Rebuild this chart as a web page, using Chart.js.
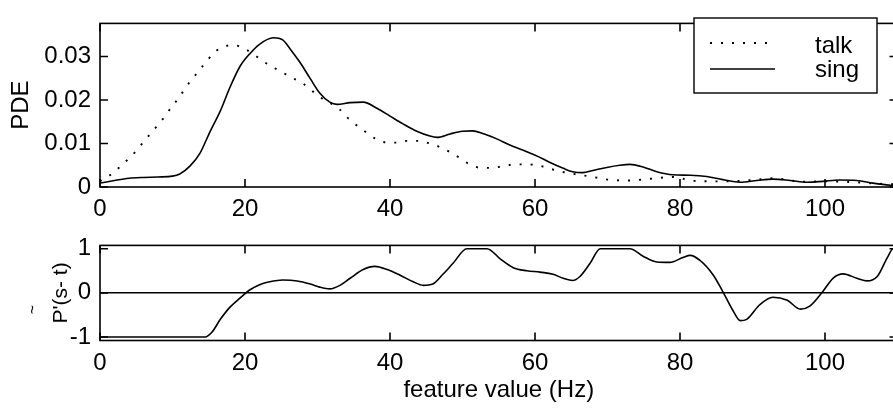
<!DOCTYPE html>
<html><head><meta charset="utf-8">
<script src="https://cdn.jsdelivr.net/npm/chart.js@4.4.1/dist/chart.umd.min.js"></script>
<style>
html,body{margin:0;padding:0;background:#fff;overflow:hidden;width:893px;height:412px;}
#wrap{position:relative;width:900px;height:412px;}
canvas{position:absolute;left:0;display:block;}
#c1{top:0;width:900px;height:222px;}
#c2{top:222px;width:900px;height:190px;}
</style></head><body>
<div id="wrap">
<canvas id="c1" width="900" height="222"></canvas>
<canvas id="c2" width="900" height="190"></canvas>
</div>
<script>
// ---- data ----
const seriesNames = ['talk', 'sing'];

const talkFreq = [0,1.8,2.9,4,5.1,6.1,7,8.1,9.1,9.9,10.9,11.7,12.7,13.7,14.6,15.6,16.7,18.4,19.9,21.2,22.5,23.9,25.2,26.5,27.9,29.1,30.3,33,34.1,35.3,36.6,37.8,39.2,40.8,42.3,43.9,45.5,47,48.4,49.7,51,52.6,54.1,55.6,57.2,58.8,60.3,61.9,63.4,65,66.5,68,70,73,76,79,82,86,90,93,97,100,104,108,110];
const talkPDE  = [0.0013,0.0032,0.0049,0.0066,0.0085,0.0106,0.0123,0.0145,0.0165,0.0185,0.0205,0.0226,0.0248,0.0268,0.0287,0.0306,0.032,0.0326,0.0318,0.0305,0.0289,0.0275,0.0263,0.0251,0.0239,0.0223,0.0207,0.0179,0.016,0.0143,0.0127,0.0113,0.0103,0.0102,0.0106,0.0106,0.01,0.0091,0.0079,0.0066,0.0052,0.0044,0.0044,0.0048,0.0052,0.0052,0.005,0.0043,0.0036,0.0031,0.0027,0.0023,0.0017,0.0015,0.0019,0.0023,0.0014,0.0013,0.0016,0.002,0.0012,0.0013,0.0011,0.0007,0.0006];

const singFreq = [0,2,4,6,8,10,11,12.4,13.8,15.2,16.6,17.9,19.3,20.7,22,23.9,25.2,26.2,27.6,29,30.3,31.7,32.7,34.5,36.3,38.2,40,41.8,43.7,45.5,46.5,48.3,50,51.4,52.8,54.8,56.6,58.3,60.3,62,63.9,65.2,66.6,68,69.9,71.7,73.1,74.9,76.8,79,81.4,83.7,85.9,88.3,90.6,92.8,95.2,97.5,99.7,102,104.4,106.6,109,110];
const singPDE  = [0.0009,0.0015,0.002,0.0022,0.0023,0.0025,0.003,0.0048,0.0078,0.0128,0.0175,0.0228,0.0277,0.0307,0.0328,0.0343,0.0338,0.0318,0.0286,0.0249,0.0216,0.0195,0.019,0.0194,0.0195,0.0181,0.0163,0.0145,0.0128,0.0117,0.0114,0.0122,0.0128,0.0129,0.0123,0.011,0.0096,0.0085,0.0071,0.0057,0.0043,0.0035,0.0033,0.0038,0.0045,0.005,0.0052,0.0046,0.0035,0.0028,0.0027,0.0024,0.0017,0.0011,0.0015,0.0018,0.0015,0.0011,0.0013,0.0016,0.0015,0.0009,0.0004,0.0003];

const diffFreq = [0,14.5,15.4,16.6,17.9,19.3,20.7,22.1,23.4,25.2,27.2,29,30.3,31.7,33.1,34.5,36.3,37.9,39.6,41.4,43.2,44.6,45.9,47.3,48.7,50.6,53.4,55.2,57,58.9,60.7,62.5,63.9,65.2,66.2,67.6,69,73.1,74.9,76.8,78.6,80.4,81.4,82.8,84.6,85.9,87.3,88.3,89.2,91,92.8,94.8,96.6,97.9,99.7,101.1,102.5,104.4,105.8,107.2,108.6,109.4,110];
const diffP    = [-1,-1,-0.9,-0.6,-0.33,-0.12,0.07,0.19,0.25,0.29,0.27,0.2,0.13,0.09,0.17,0.33,0.53,0.6,0.53,0.4,0.25,0.17,0.2,0.42,0.67,1,1,0.77,0.57,0.5,0.47,0.42,0.33,0.28,0.37,0.67,1,1,0.83,0.7,0.69,0.8,0.85,0.73,0.4,0.03,-0.4,-0.63,-0.6,-0.27,-0.1,-0.17,-0.37,-0.3,0.03,0.33,0.43,0.33,0.27,0.37,0.8,1,1];

const xTicks = [0,20,40,60,80,100];
const xTickLabels = ['0','20','40','60','80','100'];
const pdeTicks = [0,0.01,0.02,0.03];
const pdeTickLabels = ['0','0.01','0.02','0.03'];
const diffTicks = [-1,0,1];
const diffTickLabels = ['-1','0','1'];
const xTitle = 'feature value (Hz)';
const topYTitle = 'PDE';
const bottomYTitle = "P'(s- t)";
const tildeMark = '~';

// ---- rendering ----
const FONT = '"Liberation Sans", Arial, Helvetica, sans-serif';
const FS = 24;
Chart.defaults.font.family = FONT;
Chart.defaults.color = '#000';

const toXY = (xs, ys) => xs.map((v, i) => ({x: v, y: ys[i]}));

const frame = {
  id: 'frame',
  afterDatasetsDraw(chart) {
    const {ctx, chartArea: {left, right, top, bottom}, scales: {x, y}} = chart;
    ctx.save();
    ctx.strokeStyle = '#000';
    ctx.lineWidth = 1.6;
    ctx.beginPath();
    x.ticks.forEach(t => {
      const px = x.getPixelForValue(t.value);
      ctx.moveTo(px, bottom); ctx.lineTo(px, bottom - 8);
      ctx.moveTo(px, top); ctx.lineTo(px, top + 8);
    });
    y.ticks.forEach(t => {
      const py = y.getPixelForValue(t.value);
      ctx.moveTo(left, py); ctx.lineTo(left + 8, py);
      ctx.moveTo(right, py); ctx.lineTo(right - 8, py);
    });
    ctx.stroke();
    ctx.strokeRect(left, top, right - left, bottom - top);
    ctx.restore();
  }
};

const boxLegend = {
  id: 'boxLegend',
  afterDraw(chart) {
    const ctx = chart.ctx;
    ctx.save();
    ctx.fillStyle = '#fff';
    ctx.fillRect(694, 18, 183, 75);
    ctx.strokeStyle = '#000';
    ctx.lineWidth = 1.4;
    ctx.strokeRect(694, 18, 183, 75);
    const rows = [{y: 43, ty: 53}, {y: 69, ty: 77}];
    chart.data.datasets.forEach((ds, i) => {
      ctx.beginPath();
      ctx.lineWidth = ds.borderWidth;
      ctx.setLineDash(ds.borderDash || []);
      ctx.moveTo(710, rows[i].y); ctx.lineTo(775, rows[i].y);
      ctx.stroke();
      ctx.setLineDash([]);
      ctx.fillStyle = '#000';
      ctx.font = FS + 'px ' + FONT;
      ctx.textAlign = 'left';
      ctx.textBaseline = 'alphabetic';
      ctx.fillText(ds.label, 815, rows[i].ty);
    });
    ctx.restore();
  }
};

const tilde = {
  id: 'tilde',
  afterDraw(chart) {
    const ctx = chart.ctx;
    ctx.save();
    ctx.translate(33.5, 87.5);
    ctx.rotate(-Math.PI / 2);
    ctx.font = '16px ' + FONT;
    ctx.fillStyle = '#000';
    ctx.textAlign = 'center';
    ctx.textBaseline = 'middle';
    ctx.fillText(tildeMark, 0, 0);
    ctx.restore();
  }
};

function xScale(height, withTitle) {
  return {
    type: 'linear', min: 0, max: 110,
    afterBuildTicks: s => { s.ticks = xTicks.map(v => ({value: v})); },
    afterFit: s => { s.height = height; },
    grid: {display: false, drawTicks: false},
    border: {display: false},
    ticks: {
      padding: 8.4, maxRotation: 0, autoSkip: false,
      font: {size: FS},
      callback: v => xTickLabels[xTicks.indexOf(v)]
    },
    title: withTitle ? {display: true, text: xTitle, font: {size: FS}, padding: {top: 0, bottom: 7.6}} : {display: false}
  };
}

new Chart(document.getElementById('c1'), {
  type: 'line',
  data: {
    datasets: [
      {label: seriesNames[0], data: toXY(talkFreq, talkPDE), borderColor: '#000', borderWidth: 1.9,
       borderDash: [2, 9], pointRadius: 0, cubicInterpolationMode: 'monotone', fill: false},
      {label: seriesNames[1], data: toXY(singFreq, singPDE), borderColor: '#000', borderWidth: 1.6,
       pointRadius: 0, cubicInterpolationMode: 'monotone', fill: false}
    ]
  },
  options: {
    responsive: false, animation: false, devicePixelRatio: 1,
    layout: {padding: {top: 11, right: 2.5, bottom: 0, left: 0}},
    plugins: {legend: {display: false}, tooltip: {enabled: false}, title: {display: false}},
    scales: {
      x: xScale(35, false),
      y: {
        type: 'linear', min: 0, max: 0.0376,
        afterBuildTicks: s => { s.ticks = pdeTicks.map(v => ({value: v})); },
        afterFit: s => { s.width = 100; },
        grid: {display: false, drawTicks: false},
        border: {display: false},
        ticks: {padding: 9, font: {size: FS}, callback: v => pdeTickLabels[pdeTicks.indexOf(v)]},
        title: {display: true, text: topYTitle, font: {size: FS}, padding: {top: 6.8, bottom: 0}}
      }
    }
  },
  plugins: [frame, boxLegend]
});

new Chart(document.getElementById('c2'), {
  type: 'line',
  data: {
    datasets: [
      {label: bottomYTitle, data: toXY(diffFreq, diffP), borderColor: '#000', borderWidth: 1.6,
       pointRadius: 0, cubicInterpolationMode: 'monotone', fill: false}
    ]
  },
  options: {
    responsive: false, animation: false, devicePixelRatio: 1,
    layout: {padding: {top: 10, right: 2.5, bottom: 0, left: 0}},
    plugins: {legend: {display: false}, tooltip: {enabled: false}, title: {display: false}},
    scales: {
      x: xScale(71.5, true),
      y: {
        type: 'linear', min: -1.08, max: 1.075,
        afterBuildTicks: s => { s.ticks = diffTicks.map(v => ({value: v})); },
        afterFit: s => { s.width = 100; },
        grid: {display: true, drawTicks: false, lineWidth: 1.6,
               color: c => (c.tick && c.tick.value === 0) ? '#000' : 'rgba(0,0,0,0)'},
        border: {display: false},
        ticks: {padding: 9, font: {size: FS}, callback: v => diffTickLabels[diffTicks.indexOf(v)]},
        title: {display: true, text: bottomYTitle, font: {size: 21}, padding: {top: 48.4, bottom: 0}}
      }
    }
  },
  plugins: [frame, tilde]
});
</script>
</body></html>
